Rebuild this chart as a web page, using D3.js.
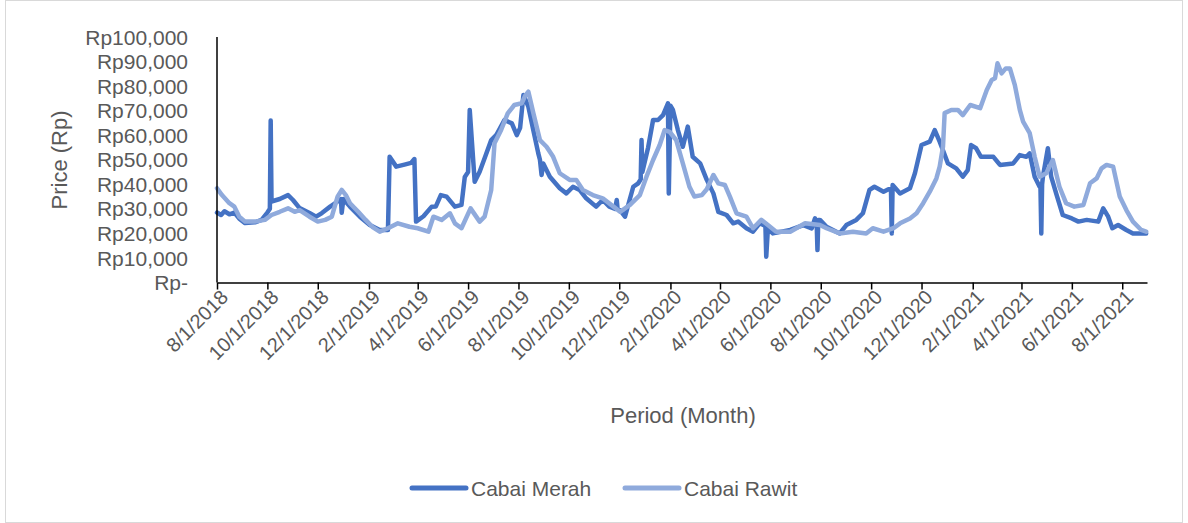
<!DOCTYPE html>
<html>
<head>
<meta charset="utf-8">
<script src="https://cdn.jsdelivr.net/npm/d3@7"></script>
<style>
  body { margin: 0; background: #fff; }
  svg { display: block; font-family: "Liberation Sans", Arial, sans-serif; }
</style>
</head>
<body>
<svg id="chart"></svg>
<script>
// series names
const seriesNames = ["Cabai Merah", "Cabai Rawit"];

// Cabai Merah
const merahDates = ["2018-08-01","2018-08-06","2018-08-10","2018-08-16","2018-08-22","2018-08-28","2018-09-04","2018-09-16","2018-09-24","2018-10-01","2018-10-04","2018-10-05","2018-10-06","2018-10-16","2018-10-26","2018-11-01","2018-11-09","2018-11-21","2018-11-29","2018-12-06","2018-12-16","2018-12-25","2018-12-29","2018-12-30","2019-01-01","2019-01-09","2019-01-21","2019-02-02","2019-02-14","2019-02-24","2019-02-26","2019-03-06","2019-03-16","2019-03-24","2019-03-28","2019-03-30","2019-04-08","2019-04-18","2019-04-23","2019-04-29","2019-05-06","2019-05-16","2019-05-24","2019-05-28","2019-06-01","2019-06-03","2019-06-09","2019-06-15","2019-06-21","2019-06-29","2019-07-05","2019-07-15","2019-07-24","2019-07-30","2019-08-03","2019-08-07","2019-08-13","2019-08-19","2019-08-25","2019-08-27","2019-08-29","2019-08-31","2019-09-08","2019-09-20","2019-09-28","2019-10-06","2019-10-14","2019-10-22","2019-11-03","2019-11-11","2019-11-19","2019-11-26","2019-11-28","2019-11-29","2019-12-02","2019-12-08","2019-12-18","2019-12-24","2019-12-27","2019-12-28","2019-12-29","2020-01-05","2020-01-11","2020-01-17","2020-01-23","2020-01-29","2020-01-30","2020-02-01","2020-02-04","2020-02-10","2020-02-16","2020-02-22","2020-02-28","2020-03-08","2020-03-16","2020-03-24","2020-03-30","2020-04-09","2020-04-17","2020-04-23","2020-05-03","2020-05-11","2020-05-19","2020-05-26","2020-05-27","2020-05-29","2020-06-04","2020-06-25","2020-07-11","2020-07-21","2020-07-25","2020-07-27","2020-07-28","2020-07-29","2020-07-31","2020-08-08","2020-08-24","2020-09-01","2020-09-13","2020-09-21","2020-09-29","2020-10-05","2020-10-16","2020-10-22","2020-10-25","2020-10-26","2020-10-27","2020-11-05","2020-11-17","2020-11-23","2020-12-01","2020-12-11","2020-12-17","2020-12-23","2021-01-02","2021-01-12","2021-01-20","2021-01-26","2021-01-30","2021-02-05","2021-02-11","2021-02-26","2021-03-06","2021-03-22","2021-03-30","2021-04-07","2021-04-11","2021-04-17","2021-04-23","2021-04-24","2021-04-25","2021-04-26","2021-04-27","2021-05-03","2021-05-07","2021-05-13","2021-05-21","2021-06-01","2021-06-09","2021-06-19","2021-07-03","2021-07-09","2021-07-15","2021-07-20","2021-07-27","2021-08-06","2021-08-14","2021-08-30"];
const merahValues = [28500,27500,29000,27800,28500,26000,24200,24500,25500,28500,30000,66000,33000,34000,35600,33600,30300,28300,26800,28300,30900,33000,34000,28400,34000,30900,26800,23400,21400,21400,51200,47200,48000,48700,50300,24800,27000,30900,31000,35600,35000,30900,31600,43000,45000,70300,41000,45100,50600,58000,60000,66200,64800,60000,63000,76400,71600,62000,52600,50000,43800,48500,43100,38400,36300,39000,37700,34300,30900,33600,30900,30000,33600,30000,29500,26800,39000,40400,42000,58000,45000,55000,66200,66200,68200,73000,36300,72000,70300,62100,55300,63500,51200,48500,41800,36300,28800,27500,24100,24800,22100,20700,24100,23000,10500,22000,20000,21400,23400,22000,26100,25000,13200,25500,25500,22700,20000,23400,25500,28200,37700,39000,37000,38000,38000,20000,39700,36300,38400,44500,56000,57400,62100,57400,48500,46500,43100,45800,56000,54700,51200,51200,47900,48500,51900,51200,52600,43100,39000,39000,20000,40000,43100,54700,43100,36300,27500,26100,24800,25500,24800,30200,26800,22100,23400,21400,20000,20000];

// Cabai Rawit
const rawitDates = ["2018-08-01","2018-08-07","2018-08-16","2018-08-22","2018-08-28","2018-09-04","2018-09-16","2018-09-28","2018-10-06","2018-10-16","2018-10-26","2018-11-03","2018-11-09","2018-11-21","2018-12-01","2018-12-10","2018-12-18","2018-12-25","2018-12-30","2019-01-04","2019-01-09","2019-01-19","2019-01-28","2019-02-05","2019-02-14","2019-02-24","2019-03-08","2019-03-22","2019-04-01","2019-04-14","2019-04-20","2019-04-30","2019-05-10","2019-05-16","2019-05-24","2019-06-04","2019-06-15","2019-06-21","2019-06-29","2019-07-03","2019-07-11","2019-07-19","2019-07-27","2019-08-05","2019-08-09","2019-08-13","2019-08-19","2019-08-27","2019-09-04","2019-09-12","2019-09-20","2019-10-02","2019-10-10","2019-10-18","2019-10-30","2019-11-11","2019-11-24","2019-12-02","2019-12-14","2019-12-26","2020-01-03","2020-01-11","2020-01-19","2020-01-25","2020-01-31","2020-02-08","2020-02-16","2020-02-24","2020-03-01","2020-03-10","2020-03-16","2020-03-24","2020-03-30","2020-04-07","2020-04-13","2020-04-21","2020-05-03","2020-05-11","2020-05-21","2020-05-29","2020-06-08","2020-06-25","2020-07-13","2020-07-31","2020-08-08","2020-08-24","2020-09-09","2020-09-25","2020-10-03","2020-10-16","2020-10-28","2020-11-05","2020-11-17","2020-11-25","2020-12-03","2020-12-11","2020-12-19","2020-12-23","2020-12-27","2020-12-29","2021-01-06","2021-01-14","2021-01-20","2021-01-29","2021-02-10","2021-02-18","2021-02-24","2021-02-28","2021-03-03","2021-03-08","2021-03-13","2021-03-18","2021-03-24","2021-03-30","2021-04-03","2021-04-11","2021-04-17","2021-04-23","2021-05-01","2021-05-09","2021-05-17","2021-05-25","2021-06-04","2021-06-15","2021-06-23","2021-07-01","2021-07-07","2021-07-13","2021-07-21","2021-07-29","2021-08-06","2021-08-14","2021-08-24","2021-08-30"];
const rawitValues = [38400,35600,32300,30900,26800,24800,24800,25500,27500,28800,30200,28800,29500,26800,24800,25500,26800,35000,37700,35600,32300,28800,25500,22700,20700,22100,24100,22700,22100,20700,26800,25500,28200,24100,22100,30200,24800,26800,37700,56700,62100,68900,72300,73000,76000,77700,69000,58000,55300,51200,44500,41800,41800,37700,35600,34300,30900,28800,31600,35600,43100,49900,56000,62100,61400,58000,48500,39000,35000,35600,38000,43800,40400,39700,35000,28200,26800,22100,25500,23400,20700,20700,24100,23400,22100,20000,20700,20000,22100,20700,22100,24100,26100,28200,32300,37000,42400,47200,55300,69000,70300,70300,68200,72300,71000,78400,82500,83200,89300,85200,87200,87200,80400,70300,65500,60800,51200,43100,44500,49900,39000,32300,30900,31600,40400,42400,46500,47900,47200,35000,29500,24800,21400,20700];

// axis ticks
const xTickDates = ["2018-08-01","2018-10-01","2018-12-01","2019-02-01","2019-04-01","2019-06-01","2019-08-01","2019-10-01","2019-12-01","2020-02-01","2020-04-01","2020-06-01","2020-08-01","2020-10-01","2020-12-01","2021-02-01","2021-04-01","2021-06-01","2021-08-01"];
const yTicks = [0,10000,20000,30000,40000,50000,60000,70000,80000,90000,100000];

const width = 1188;
const height = 523;
const plotLeft = 217;
const plotRight = 1147;
const plotTop = 37;
const plotBottom = 282.5;
const colors = ["#4472C4", "#8FAADC"];
const textColor = "#595959";

const parse = d3.timeParse("%Y-%m-%d");
const fmtDate = d3.timeFormat("%-m/%-d/%Y");

let svg = d3.select("#chart")
  .attr("width", width)
  .attr("height", height)

// chart border
svg.append("rect")
   .attr("x", 5.5)
   .attr("y", 0.5)
   .attr("width", width - 11)
   .attr("height", height - 1)
   .attr("fill", "#fff")
   .attr("stroke", "#d9d9d9")

let xScale = d3.scaleTime()
  .domain([parse("2018-08-01"), parse("2021-08-31")])
  .range([plotLeft, plotRight])

let yScale = d3.scaleLinear()
  .domain([0, 100000])
  .range([plotBottom, plotTop])

// y labels (no tick marks)
svg.append("g")
   .selectAll("text")
   .data(yTicks)
   .enter()
   .append("text")
   .attr("x", 188)
   .attr("y", (d) => yScale(d))
   .attr("dy", "0.36em")
   .attr("text-anchor", "end")
   .attr("fill", textColor)
   .style("font-size", "21px")
   .text((d) => d === 0 ? "Rp-" : "Rp" + d3.format(",")(d))

// lines
let line = d3.line()
  .x((d) => xScale(d.date))
  .y((d) => yScale(d.value))

let series = [
  merahDates.map((d, i) => ({date: parse(d), value: merahValues[i]})),
  rawitDates.map((d, i) => ({date: parse(d), value: rawitValues[i]}))
];

series.forEach((s, i) => {
  svg.append("path")
     .datum(s)
     .attr("d", line)
     .attr("fill", "none")
     .attr("stroke", colors[i])
     .attr("stroke-width", 4.5)
     .attr("stroke-linejoin", "round")
     .attr("stroke-linecap", "round")
})

// axes
let xAxis = d3.axisBottom(xScale)
  .tickValues(xTickDates.map(parse))
  .tickFormat(fmtDate)
  .tickSize(7)
  .tickSizeOuter(0)

let gx = svg.append("g")
   .attr("transform", "translate(0," + plotBottom + ")")
   .call(xAxis)

gx.select(".domain").attr("stroke", "#000").attr("stroke-width", 1.5)
gx.selectAll(".tick line").attr("stroke", "#000").attr("stroke-width", 1.5)
gx.selectAll(".tick text")
  .attr("fill", textColor)
  .style("font-size", "20px")
  .style("font-family", "Liberation Sans, Arial, sans-serif")
  .attr("text-anchor", "end")
  .attr("transform", "translate(7,11) rotate(-45)")
  .attr("dy", "0.35em")
  .attr("y", 0)

svg.append("line")
   .attr("x1", plotLeft)
   .attr("x2", plotLeft)
   .attr("y1", plotTop)
   .attr("y2", plotBottom)
   .attr("stroke", "#000")
   .attr("stroke-width", 1.5)

// axis titles
svg.append("text")
   .attr("x", 683)
   .attr("y", 423)
   .attr("text-anchor", "middle")
   .attr("fill", textColor)
   .style("font-size", "22px")
   .text("Period (Month)")

svg.append("text")
   .attr("transform", "translate(67,160) rotate(-90)")
   .attr("text-anchor", "middle")
   .attr("fill", textColor)
   .style("font-size", "22px")
   .text("Price (Rp)")

// legend
let legendX = [412, 625];
seriesNames.forEach((name, i) => {
  svg.append("line")
     .attr("x1", legendX[i])
     .attr("x2", legendX[i] + 54)
     .attr("y1", 488)
     .attr("y2", 488)
     .attr("stroke", colors[i])
     .attr("stroke-width", 5)
     .attr("stroke-linecap", "round")
  svg.append("text")
     .attr("x", legendX[i] + 59)
     .attr("y", 488)
     .attr("dy", "0.36em")
     .attr("fill", textColor)
     .style("font-size", "21px")
     .text(name)
})
</script>
</body>
</html>
